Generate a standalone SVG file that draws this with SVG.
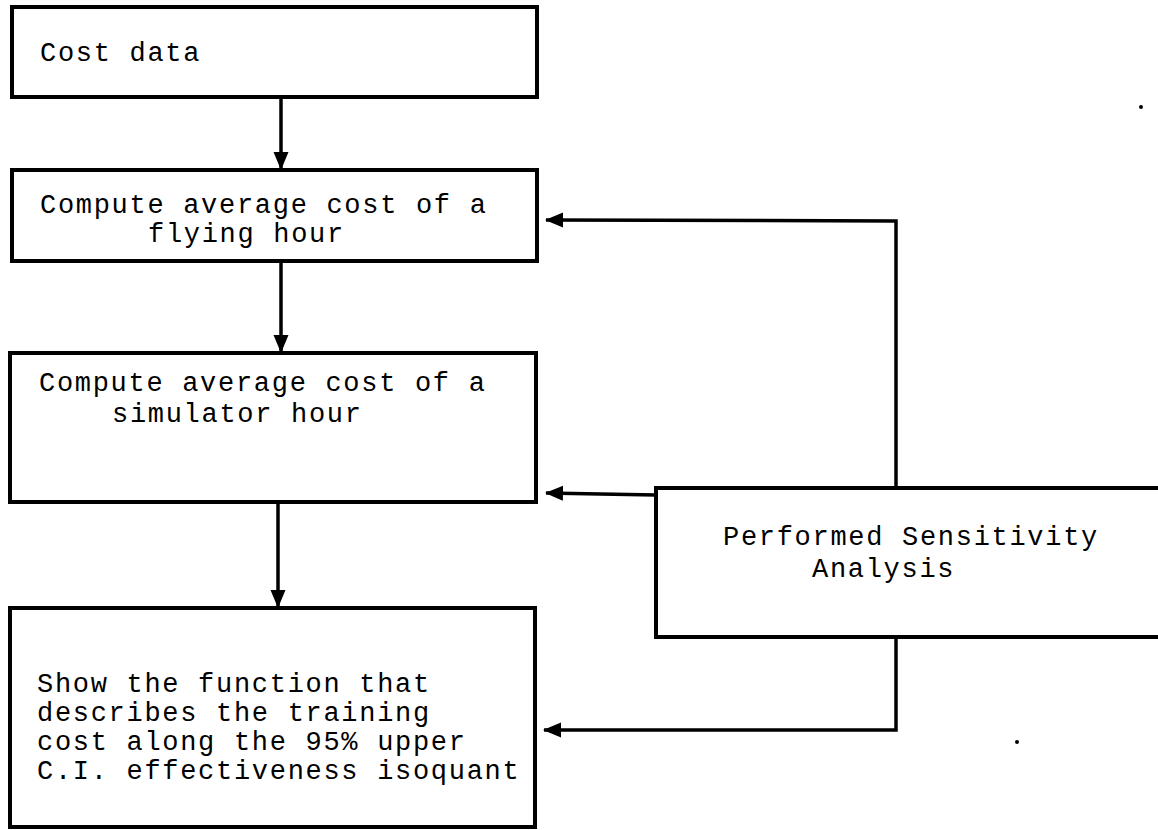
<svg xmlns="http://www.w3.org/2000/svg" width="1158" height="830" viewBox="0 0 1158 830">
<style>
.box{fill:#fff;stroke:#000;stroke-width:4;}
.txt{font-family:"Liberation Mono","DejaVu Sans Mono",monospace;font-size:27px;letter-spacing:1.7px;fill:#000;}
.con{fill:none;stroke:#000;stroke-width:3.5;}
</style>
<defs>
<marker id="ah" markerUnits="userSpaceOnUse" markerWidth="18" markerHeight="18" viewBox="0 0 18 18" refX="17" refY="9" orient="auto">
<path d="M0,1.5 L18,9 L0,16.5 Z" fill="#000"/>
</marker>
</defs>
<rect width="1158" height="830" fill="#fff"/>
<g id="connectors">
<line class="con" x1="281" y1="97" x2="281" y2="169" marker-end="url(#ah)"/>
<line class="con" x1="281" y1="261" x2="281" y2="352" marker-end="url(#ah)"/>
<line class="con" x1="278" y1="502" x2="278" y2="607" marker-end="url(#ah)"/>
<polyline class="con" points="896,488 896,221 546,220" marker-end="url(#ah)"/>
<polyline class="con" points="656,495 600,494 546,493" marker-end="url(#ah)"/>
<polyline class="con" points="896,637 896,730 544,730" marker-end="url(#ah)"/>
</g>
<g id="cost-data">
<rect class="box" x="12" y="7" width="525" height="90"/>
<text class="txt" x="40" y="61">Cost data</text>
</g>
<g id="flying-hour">
<rect class="box" x="12" y="170" width="525" height="91"/>
<text class="txt" x="40" y="213">Compute average cost of a</text>
<text class="txt" x="148" y="242">flying hour</text>
</g>
<g id="simulator-hour">
<rect class="box" x="10" y="353" width="526" height="149"/>
<text class="txt" x="39" y="391">Compute average cost of a</text>
<text class="txt" x="112" y="422">simulator hour</text>
</g>
<g id="training-cost">
<rect class="box" x="10" y="608" width="525" height="219"/>
<text class="txt" x="37" y="692">Show the function that</text>
<text class="txt" x="37" y="721">describes the training</text>
<text class="txt" x="37" y="750">cost along the 95% upper</text>
<text class="txt" x="37" y="779">C.I. effectiveness isoquant</text>
</g>
<g id="sensitivity">
<rect class="box" x="656" y="488" width="520" height="149"/>
<text class="txt" x="723" y="545">Performed Sensitivity</text>
<text class="txt" x="812" y="577">Analysis</text>
</g>
<circle cx="1141" cy="107" r="2" fill="#000"/>
<circle cx="1017" cy="742" r="2" fill="#000"/>
</svg>
